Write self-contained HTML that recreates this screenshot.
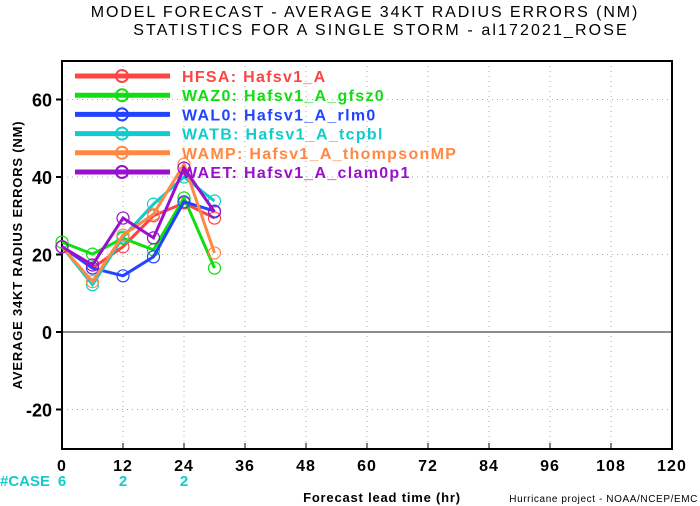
<!DOCTYPE html>
<html><head><meta charset="utf-8"><style>
body{margin:0;background:#fff;width:700px;height:506px;overflow:hidden}
svg{display:block;font-family:"Liberation Sans",sans-serif;font-weight:bold}
</style></head><body>
<svg id="c" width="700" height="506"></svg>
<script>
const hours=[0,6,12,18,24,30];
const names=["HFSA:  Hafsv1_A","WAZ0:  Hafsv1_A_gfsz0","WAL0:  Hafsv1_A_rlm0","WATB:  Hafsv1_A_tcpbl","WAMP:  Hafsv1_A_thompsonMP","WAET:  Hafsv1_A_clam0p1"];
const colors=["#f44","#1d1","#24f","#1cc","#f84","#91c"];
const sHFSA=[22,16.5,22,30,33.3,29.4];
const sWAZ0=[23.2,20.1,24.2,21.2,34.6,16.5];
const sWAL0=[22,16.5,14.5,19.4,33.6,31.2];
const sWATB=[22,12.2,24.5,33,40,33.8];
const sWAMP=[22,13,25,30.4,43.3,20.4];
const sWAET=[22,17.3,29.4,24.3,42.3,31];
const series=[sHFSA,sWAZ0,sWAL0,sWATB,sWAMP,sWAET];
const xTicks=[0,12,24,36,48,60,72,84,96,108,120];
const yTicks=[-20,0,20,40,60];
const caseHours=[0,12,24];
const caseVals=["6","2","2"];
const X=v=>62+v*610/120, Y=v=>332-v*3.875;
const svg=document.getElementById('c');const NS="http://www.w3.org/2000/svg";
function mk(t,a,p,txt){const e=document.createElementNS(NS,t);for(const k in a)e.setAttribute(k,a[k]);if(txt!==undefined)e.textContent=txt;(p||svg).appendChild(e);return e;}
let e;
e=mk('text',{x:365,y:17,'text-anchor':'middle','font-size':16,fill:'#000','font-weight':'normal','letter-spacing':'1.9'},null,"MODEL FORECAST - AVERAGE 34KT RADIUS ERRORS (NM)");

e=mk('text',{x:381,y:35,'text-anchor':'middle','font-size':16,fill:'#000','font-weight':'normal','letter-spacing':'2.1'},null,"STATISTICS FOR A SINGLE STORM - al172021_ROSE");

xTicks.forEach(t=>{const g=mk('line',{x1:X(t),x2:X(t),y1:61,y2:449,stroke:'#aaa','stroke-dasharray':'1,4'});

const l=mk('text',{x:X(t),y:471,'text-anchor':'middle','font-size':16,'letter-spacing':'1'},null,String(t));

mk('line',{x1:X(t),x2:X(t),y1:449,y2:443,stroke:'#000'});});
yTicks.forEach(t=>{if(t!==0){const g=mk('line',{x1:62,x2:672,y1:Y(t),y2:Y(t),stroke:'#aaa','stroke-dasharray':'1,4'});
}
const l=mk('text',{x:52,y:Y(t)+7,'text-anchor':'end','font-size':18},null,String(t));

mk('line',{x1:56,x2:62,y1:Y(t),y2:Y(t),stroke:'#000','stroke-width':2});});
e=mk('line',{x1:62,x2:672,y1:Y(0),y2:Y(0),stroke:'#666','stroke-width':1.5});

e=mk('rect',{x:62,y:61,width:610,height:388,fill:'none',stroke:'#000','stroke-width':2});

series.forEach((s,i)=>{const g=mk('g',{});

mk('polyline',{points:s.map((v,j)=>X(hours[j])+','+Y(v)).join(' '),fill:'none',stroke:colors[i],'stroke-width':3},g);
s.forEach((v,j)=>{const c=mk('circle',{cx:X(hours[j]),cy:Y(v),r:6,fill:'none',stroke:colors[i],'stroke-width':1.2},g);
});});
names.forEach((n,i)=>{const y=76+i*19.2;const g=mk('g',{});

mk('line',{x1:75,x2:170,y1:y,y2:y,stroke:colors[i],'stroke-width':5},g);
mk('circle',{cx:122,cy:y,r:6,fill:'none',stroke:colors[i],'stroke-width':2},g);
mk('text',{x:182,y:y+6,'font-size':16,fill:colors[i],'letter-spacing':'1.3'},g,n);});
e=mk('text',{x:0,y:0,'text-anchor':'middle','font-size':13,'letter-spacing':'0.8',transform:'translate(22,255) rotate(-90)'},null,"AVERAGE 34KT RADIUS ERRORS (NM)");

e=mk('text',{x:0,y:486,'font-size':15,fill:'#1cc'},null,"#CASE");

caseHours.forEach((h,i)=>{const t=mk('text',{x:X(h),y:486,'text-anchor':'middle','font-size':15,fill:'#1cc'},null,caseVals[i]);
});
e=mk('text',{x:382,y:502,'text-anchor':'middle','font-size':13,'letter-spacing':'0.8'},null,"Forecast lead time (hr)");

e=mk('text',{x:698,y:502,'text-anchor':'end','font-size':10,'font-weight':'normal','letter-spacing':'0.6'},null,"Hurricane project - NOAA/NCEP/EMC");

</script></body></html>
